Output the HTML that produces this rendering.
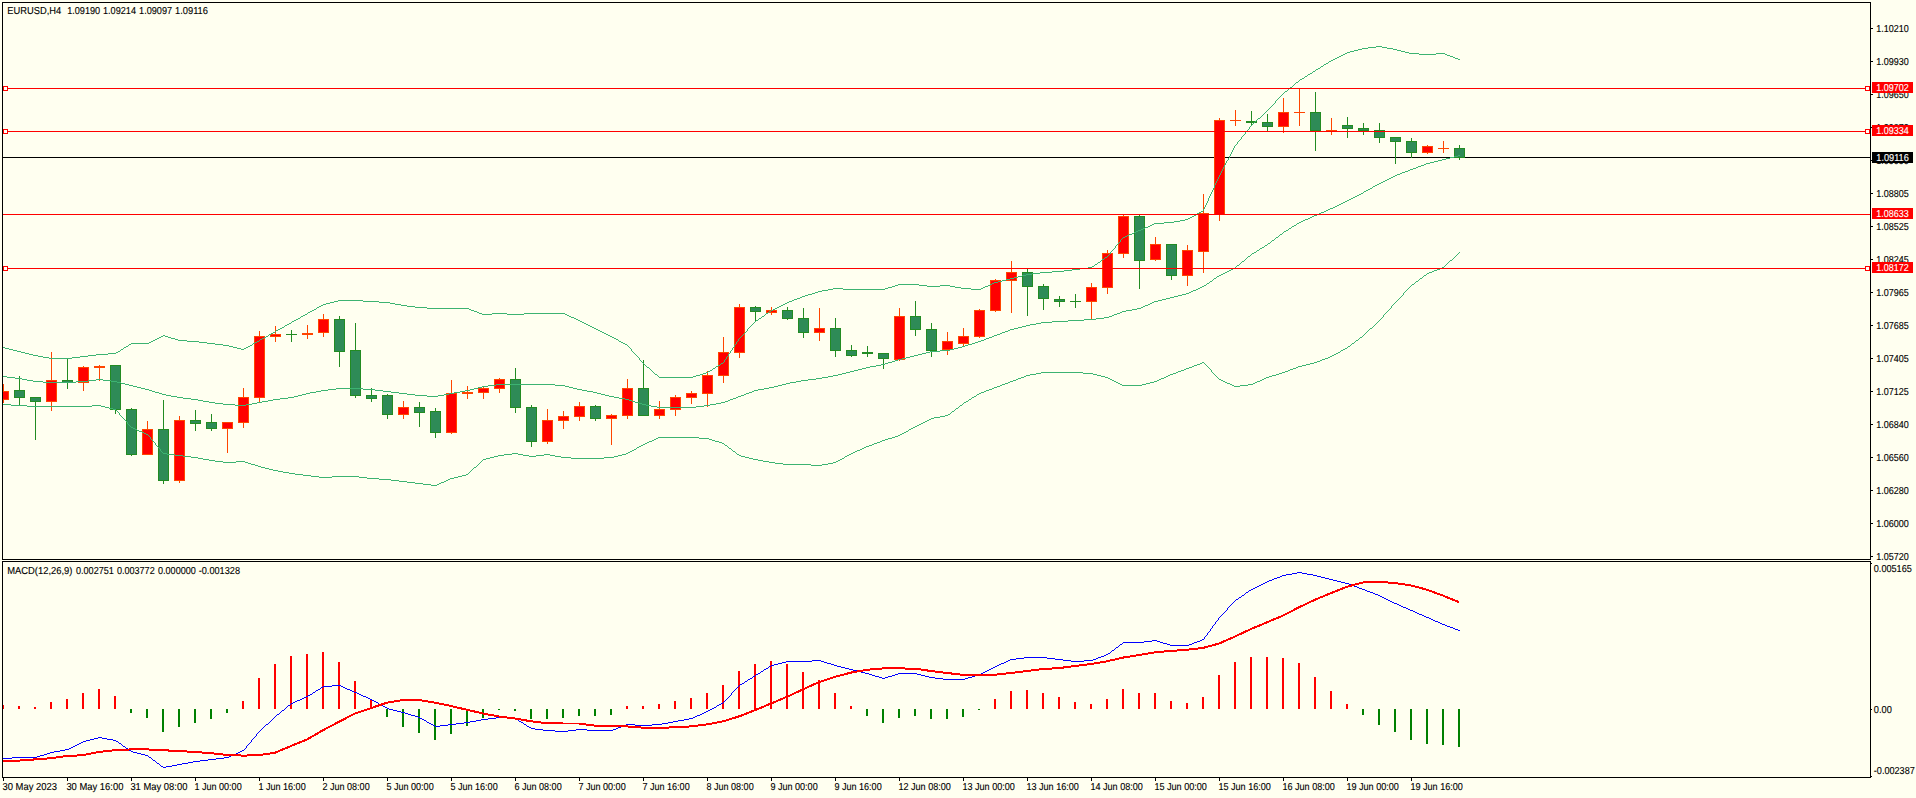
<!DOCTYPE html><html><head><meta charset="utf-8"><title>EURUSD,H4</title>
<style>html,body{margin:0;padding:0;background:#FFFFF0;width:1916px;height:798px;overflow:hidden}svg{display:block;position:absolute;left:0;top:0}text{font-family:"Liberation Sans",sans-serif;text-rendering:geometricPrecision;font-size:10.1px;fill:#000;stroke:#000;stroke-width:0.12px}.w{fill:#fff;stroke:#fff}</style></head><body>
<svg width="1916" height="798" viewBox="0 0 1916 798">
<rect x="0" y="0" width="1916" height="798" fill="#FFFFF0"/>
<g shape-rendering="crispEdges">
<rect x="2" y="2" width="1869" height="1" fill="#000"/>
<rect x="2" y="559" width="1869" height="1" fill="#000"/>
<rect x="2" y="2" width="1" height="558" fill="#000"/>
<rect x="1870" y="2" width="1" height="558" fill="#000"/>
<rect x="2" y="561" width="1869" height="1" fill="#000"/>
<rect x="2" y="777" width="1869" height="1" fill="#000"/>
<rect x="2" y="561" width="1" height="217" fill="#000"/>
<rect x="1870" y="561" width="1" height="217" fill="#000"/>
<rect x="1871" y="28" width="2" height="1" fill="#000"/>
<rect x="1871" y="61" width="2" height="1" fill="#000"/>
<rect x="1871" y="94" width="2" height="1" fill="#000"/>
<rect x="1871" y="127" width="2" height="1" fill="#000"/>
<rect x="1871" y="160" width="2" height="1" fill="#000"/>
<rect x="1871" y="193" width="2" height="1" fill="#000"/>
<rect x="1871" y="226" width="2" height="1" fill="#000"/>
<rect x="1871" y="259" width="2" height="1" fill="#000"/>
<rect x="1871" y="292" width="2" height="1" fill="#000"/>
<rect x="1871" y="325" width="2" height="1" fill="#000"/>
<rect x="1871" y="358" width="2" height="1" fill="#000"/>
<rect x="1871" y="391" width="2" height="1" fill="#000"/>
<rect x="1871" y="424" width="2" height="1" fill="#000"/>
<rect x="1871" y="457" width="2" height="1" fill="#000"/>
<rect x="1871" y="490" width="2" height="1" fill="#000"/>
<rect x="1871" y="523" width="2" height="1" fill="#000"/>
<rect x="1871" y="556" width="2" height="1" fill="#000"/>
<rect x="1871" y="563" width="1" height="1" fill="#000"/>
<rect x="1871" y="709" width="1" height="1" fill="#000"/>
<rect x="1871" y="776" width="1" height="1" fill="#000"/>
<rect x="3" y="778" width="1" height="3" fill="#000"/>
<rect x="67" y="778" width="1" height="3" fill="#000"/>
<rect x="131" y="778" width="1" height="3" fill="#000"/>
<rect x="195" y="778" width="1" height="3" fill="#000"/>
<rect x="259" y="778" width="1" height="3" fill="#000"/>
<rect x="323" y="778" width="1" height="3" fill="#000"/>
<rect x="387" y="778" width="1" height="3" fill="#000"/>
<rect x="451" y="778" width="1" height="3" fill="#000"/>
<rect x="515" y="778" width="1" height="3" fill="#000"/>
<rect x="579" y="778" width="1" height="3" fill="#000"/>
<rect x="643" y="778" width="1" height="3" fill="#000"/>
<rect x="707" y="778" width="1" height="3" fill="#000"/>
<rect x="771" y="778" width="1" height="3" fill="#000"/>
<rect x="835" y="778" width="1" height="3" fill="#000"/>
<rect x="899" y="778" width="1" height="3" fill="#000"/>
<rect x="963" y="778" width="1" height="3" fill="#000"/>
<rect x="1027" y="778" width="1" height="3" fill="#000"/>
<rect x="1091" y="778" width="1" height="3" fill="#000"/>
<rect x="1155" y="778" width="1" height="3" fill="#000"/>
<rect x="1219" y="778" width="1" height="3" fill="#000"/>
<rect x="1283" y="778" width="1" height="3" fill="#000"/>
<rect x="1347" y="778" width="1" height="3" fill="#000"/>
<rect x="1411" y="778" width="1" height="3" fill="#000"/>
</g>
<defs><clipPath id="c1"><rect x="3" y="3" width="1867" height="556"/></clipPath><clipPath id="c2"><rect x="3" y="562" width="1867" height="215"/></clipPath></defs>
<g clip-path="url(#c1)" shape-rendering="crispEdges">
<rect x="3" y="157" width="1867" height="1" fill="#000"/>
<rect x="3" y="384" width="1" height="19" fill="#FF4500"/>
<rect x="-2" y="391" width="11" height="9" fill="#FF4500"/>
<rect x="-1" y="392" width="9" height="7" fill="#FF0000"/>
<rect x="19" y="376" width="1" height="30" fill="#228B22"/>
<rect x="14" y="390" width="11" height="8" fill="#228B22"/>
<rect x="15" y="391" width="9" height="6" fill="#2E8B57"/>
<rect x="35" y="397" width="1" height="43" fill="#228B22"/>
<rect x="30" y="397" width="11" height="5" fill="#228B22"/>
<rect x="31" y="398" width="9" height="3" fill="#2E8B57"/>
<rect x="51" y="352" width="1" height="59" fill="#FF4500"/>
<rect x="46" y="380" width="11" height="22" fill="#FF4500"/>
<rect x="47" y="381" width="9" height="20" fill="#FF0000"/>
<rect x="67" y="358" width="1" height="31" fill="#228B22"/>
<rect x="62" y="380" width="11" height="3" fill="#228B22"/>
<rect x="63" y="381" width="9" height="1" fill="#2E8B57"/>
<rect x="83" y="366" width="1" height="25" fill="#FF4500"/>
<rect x="78" y="367" width="11" height="16" fill="#FF4500"/>
<rect x="79" y="368" width="9" height="14" fill="#FF0000"/>
<rect x="99" y="365" width="1" height="16" fill="#FF4500"/>
<rect x="94" y="366" width="11" height="2" fill="#FF4500"/>
<rect x="115" y="365" width="1" height="49" fill="#228B22"/>
<rect x="110" y="365" width="11" height="45" fill="#228B22"/>
<rect x="111" y="366" width="9" height="43" fill="#2E8B57"/>
<rect x="131" y="408" width="1" height="48" fill="#228B22"/>
<rect x="126" y="409" width="11" height="46" fill="#228B22"/>
<rect x="127" y="410" width="9" height="44" fill="#2E8B57"/>
<rect x="147" y="421" width="1" height="34" fill="#FF4500"/>
<rect x="142" y="429" width="11" height="26" fill="#FF4500"/>
<rect x="143" y="430" width="9" height="24" fill="#FF0000"/>
<rect x="163" y="400" width="1" height="84" fill="#228B22"/>
<rect x="158" y="429" width="11" height="52" fill="#228B22"/>
<rect x="159" y="430" width="9" height="50" fill="#2E8B57"/>
<rect x="179" y="416" width="1" height="67" fill="#FF4500"/>
<rect x="174" y="420" width="11" height="61" fill="#FF4500"/>
<rect x="175" y="421" width="9" height="59" fill="#FF0000"/>
<rect x="195" y="410" width="1" height="21" fill="#228B22"/>
<rect x="190" y="420" width="11" height="4" fill="#228B22"/>
<rect x="191" y="421" width="9" height="2" fill="#2E8B57"/>
<rect x="211" y="414" width="1" height="17" fill="#228B22"/>
<rect x="206" y="422" width="11" height="7" fill="#228B22"/>
<rect x="207" y="423" width="9" height="5" fill="#2E8B57"/>
<rect x="227" y="422" width="1" height="31" fill="#FF4500"/>
<rect x="222" y="422" width="11" height="7" fill="#FF4500"/>
<rect x="223" y="423" width="9" height="5" fill="#FF0000"/>
<rect x="243" y="388" width="1" height="40" fill="#FF4500"/>
<rect x="238" y="397" width="11" height="26" fill="#FF4500"/>
<rect x="239" y="398" width="9" height="24" fill="#FF0000"/>
<rect x="259" y="331" width="1" height="72" fill="#FF4500"/>
<rect x="254" y="336" width="11" height="62" fill="#FF4500"/>
<rect x="255" y="337" width="9" height="60" fill="#FF0000"/>
<rect x="275" y="326" width="1" height="16" fill="#FF4500"/>
<rect x="270" y="334" width="11" height="3" fill="#FF4500"/>
<rect x="271" y="335" width="9" height="1" fill="#FF0000"/>
<rect x="291" y="330" width="1" height="12" fill="#228B22"/>
<rect x="286" y="334" width="11" height="1" fill="#228B22"/>
<rect x="307" y="325" width="1" height="14" fill="#FF4500"/>
<rect x="302" y="333" width="11" height="2" fill="#FF4500"/>
<rect x="323" y="314" width="1" height="23" fill="#FF4500"/>
<rect x="318" y="319" width="11" height="14" fill="#FF4500"/>
<rect x="319" y="320" width="9" height="12" fill="#FF0000"/>
<rect x="339" y="316" width="1" height="51" fill="#228B22"/>
<rect x="334" y="319" width="11" height="33" fill="#228B22"/>
<rect x="335" y="320" width="9" height="31" fill="#2E8B57"/>
<rect x="355" y="323" width="1" height="75" fill="#228B22"/>
<rect x="350" y="350" width="11" height="46" fill="#228B22"/>
<rect x="351" y="351" width="9" height="44" fill="#2E8B57"/>
<rect x="371" y="388" width="1" height="14" fill="#228B22"/>
<rect x="366" y="395" width="11" height="4" fill="#228B22"/>
<rect x="367" y="396" width="9" height="2" fill="#2E8B57"/>
<rect x="387" y="394" width="1" height="25" fill="#228B22"/>
<rect x="382" y="395" width="11" height="20" fill="#228B22"/>
<rect x="383" y="396" width="9" height="18" fill="#2E8B57"/>
<rect x="403" y="401" width="1" height="18" fill="#FF4500"/>
<rect x="398" y="407" width="11" height="8" fill="#FF4500"/>
<rect x="399" y="408" width="9" height="6" fill="#FF0000"/>
<rect x="419" y="402" width="1" height="25" fill="#228B22"/>
<rect x="414" y="407" width="11" height="6" fill="#228B22"/>
<rect x="415" y="408" width="9" height="4" fill="#2E8B57"/>
<rect x="435" y="408" width="1" height="30" fill="#228B22"/>
<rect x="430" y="411" width="11" height="22" fill="#228B22"/>
<rect x="431" y="412" width="9" height="20" fill="#2E8B57"/>
<rect x="451" y="380" width="1" height="54" fill="#FF4500"/>
<rect x="446" y="393" width="11" height="40" fill="#FF4500"/>
<rect x="447" y="394" width="9" height="38" fill="#FF0000"/>
<rect x="467" y="386" width="1" height="13" fill="#FF4500"/>
<rect x="462" y="392" width="11" height="2" fill="#FF4500"/>
<rect x="483" y="386" width="1" height="13" fill="#FF4500"/>
<rect x="478" y="388" width="11" height="5" fill="#FF4500"/>
<rect x="479" y="389" width="9" height="3" fill="#FF0000"/>
<rect x="499" y="378" width="1" height="15" fill="#FF4500"/>
<rect x="494" y="379" width="11" height="10" fill="#FF4500"/>
<rect x="495" y="380" width="9" height="8" fill="#FF0000"/>
<rect x="515" y="368" width="1" height="45" fill="#228B22"/>
<rect x="510" y="379" width="11" height="29" fill="#228B22"/>
<rect x="511" y="380" width="9" height="27" fill="#2E8B57"/>
<rect x="531" y="405" width="1" height="42" fill="#228B22"/>
<rect x="526" y="407" width="11" height="35" fill="#228B22"/>
<rect x="527" y="408" width="9" height="33" fill="#2E8B57"/>
<rect x="547" y="409" width="1" height="35" fill="#FF4500"/>
<rect x="542" y="420" width="11" height="22" fill="#FF4500"/>
<rect x="543" y="421" width="9" height="20" fill="#FF0000"/>
<rect x="563" y="411" width="1" height="18" fill="#FF4500"/>
<rect x="558" y="416" width="11" height="5" fill="#FF4500"/>
<rect x="559" y="417" width="9" height="3" fill="#FF0000"/>
<rect x="579" y="402" width="1" height="19" fill="#FF4500"/>
<rect x="574" y="406" width="11" height="11" fill="#FF4500"/>
<rect x="575" y="407" width="9" height="9" fill="#FF0000"/>
<rect x="595" y="405" width="1" height="16" fill="#228B22"/>
<rect x="590" y="406" width="11" height="13" fill="#228B22"/>
<rect x="591" y="407" width="9" height="11" fill="#2E8B57"/>
<rect x="611" y="414" width="1" height="31" fill="#FF4500"/>
<rect x="606" y="415" width="11" height="4" fill="#FF4500"/>
<rect x="607" y="416" width="9" height="2" fill="#FF0000"/>
<rect x="627" y="379" width="1" height="40" fill="#FF4500"/>
<rect x="622" y="388" width="11" height="28" fill="#FF4500"/>
<rect x="623" y="389" width="9" height="26" fill="#FF0000"/>
<rect x="643" y="360" width="1" height="56" fill="#228B22"/>
<rect x="638" y="388" width="11" height="28" fill="#228B22"/>
<rect x="639" y="389" width="9" height="26" fill="#2E8B57"/>
<rect x="659" y="401" width="1" height="18" fill="#FF4500"/>
<rect x="654" y="409" width="11" height="7" fill="#FF4500"/>
<rect x="655" y="410" width="9" height="5" fill="#FF0000"/>
<rect x="675" y="395" width="1" height="21" fill="#FF4500"/>
<rect x="670" y="397" width="11" height="13" fill="#FF4500"/>
<rect x="671" y="398" width="9" height="11" fill="#FF0000"/>
<rect x="691" y="391" width="1" height="13" fill="#FF4500"/>
<rect x="686" y="393" width="11" height="5" fill="#FF4500"/>
<rect x="687" y="394" width="9" height="3" fill="#FF0000"/>
<rect x="707" y="371" width="1" height="36" fill="#FF4500"/>
<rect x="702" y="375" width="11" height="19" fill="#FF4500"/>
<rect x="703" y="376" width="9" height="17" fill="#FF0000"/>
<rect x="723" y="337" width="1" height="46" fill="#FF4500"/>
<rect x="718" y="352" width="11" height="24" fill="#FF4500"/>
<rect x="719" y="353" width="9" height="22" fill="#FF0000"/>
<rect x="739" y="304" width="1" height="54" fill="#FF4500"/>
<rect x="734" y="307" width="11" height="46" fill="#FF4500"/>
<rect x="735" y="308" width="9" height="44" fill="#FF0000"/>
<rect x="755" y="306" width="1" height="15" fill="#228B22"/>
<rect x="750" y="307" width="11" height="5" fill="#228B22"/>
<rect x="751" y="308" width="9" height="3" fill="#2E8B57"/>
<rect x="771" y="307" width="1" height="8" fill="#FF4500"/>
<rect x="766" y="310" width="11" height="3" fill="#FF4500"/>
<rect x="767" y="311" width="9" height="1" fill="#FF0000"/>
<rect x="787" y="307" width="1" height="13" fill="#228B22"/>
<rect x="782" y="310" width="11" height="9" fill="#228B22"/>
<rect x="783" y="311" width="9" height="7" fill="#2E8B57"/>
<rect x="803" y="308" width="1" height="30" fill="#228B22"/>
<rect x="798" y="318" width="11" height="15" fill="#228B22"/>
<rect x="799" y="319" width="9" height="13" fill="#2E8B57"/>
<rect x="819" y="308" width="1" height="33" fill="#FF4500"/>
<rect x="814" y="328" width="11" height="5" fill="#FF4500"/>
<rect x="815" y="329" width="9" height="3" fill="#FF0000"/>
<rect x="835" y="318" width="1" height="39" fill="#228B22"/>
<rect x="830" y="328" width="11" height="23" fill="#228B22"/>
<rect x="831" y="329" width="9" height="21" fill="#2E8B57"/>
<rect x="851" y="345" width="1" height="12" fill="#228B22"/>
<rect x="846" y="350" width="11" height="6" fill="#228B22"/>
<rect x="847" y="351" width="9" height="4" fill="#2E8B57"/>
<rect x="867" y="346" width="1" height="11" fill="#228B22"/>
<rect x="862" y="352" width="11" height="2" fill="#228B22"/>
<rect x="883" y="353" width="1" height="16" fill="#228B22"/>
<rect x="878" y="353" width="11" height="6" fill="#228B22"/>
<rect x="879" y="354" width="9" height="4" fill="#2E8B57"/>
<rect x="899" y="308" width="1" height="53" fill="#FF4500"/>
<rect x="894" y="316" width="11" height="44" fill="#FF4500"/>
<rect x="895" y="317" width="9" height="42" fill="#FF0000"/>
<rect x="915" y="301" width="1" height="35" fill="#228B22"/>
<rect x="910" y="316" width="11" height="14" fill="#228B22"/>
<rect x="911" y="317" width="9" height="12" fill="#2E8B57"/>
<rect x="931" y="323" width="1" height="34" fill="#228B22"/>
<rect x="926" y="329" width="11" height="22" fill="#228B22"/>
<rect x="927" y="330" width="9" height="20" fill="#2E8B57"/>
<rect x="947" y="332" width="1" height="23" fill="#FF4500"/>
<rect x="942" y="341" width="11" height="9" fill="#FF4500"/>
<rect x="943" y="342" width="9" height="7" fill="#FF0000"/>
<rect x="963" y="328" width="1" height="18" fill="#FF4500"/>
<rect x="958" y="336" width="11" height="8" fill="#FF4500"/>
<rect x="959" y="337" width="9" height="6" fill="#FF0000"/>
<rect x="979" y="309" width="1" height="29" fill="#FF4500"/>
<rect x="974" y="310" width="11" height="27" fill="#FF4500"/>
<rect x="975" y="311" width="9" height="25" fill="#FF0000"/>
<rect x="995" y="279" width="1" height="33" fill="#FF4500"/>
<rect x="990" y="280" width="11" height="31" fill="#FF4500"/>
<rect x="991" y="281" width="9" height="29" fill="#FF0000"/>
<rect x="1011" y="261" width="1" height="52" fill="#FF4500"/>
<rect x="1006" y="272" width="11" height="9" fill="#FF4500"/>
<rect x="1007" y="273" width="9" height="7" fill="#FF0000"/>
<rect x="1027" y="268" width="1" height="48" fill="#228B22"/>
<rect x="1022" y="272" width="11" height="15" fill="#228B22"/>
<rect x="1023" y="273" width="9" height="13" fill="#2E8B57"/>
<rect x="1043" y="284" width="1" height="26" fill="#228B22"/>
<rect x="1038" y="286" width="11" height="13" fill="#228B22"/>
<rect x="1039" y="287" width="9" height="11" fill="#2E8B57"/>
<rect x="1059" y="296" width="1" height="11" fill="#228B22"/>
<rect x="1054" y="299" width="11" height="3" fill="#228B22"/>
<rect x="1055" y="300" width="9" height="1" fill="#2E8B57"/>
<rect x="1075" y="294" width="1" height="14" fill="#228B22"/>
<rect x="1070" y="301" width="11" height="1" fill="#228B22"/>
<rect x="1091" y="283" width="1" height="37" fill="#FF4500"/>
<rect x="1086" y="287" width="11" height="15" fill="#FF4500"/>
<rect x="1087" y="288" width="9" height="13" fill="#FF0000"/>
<rect x="1107" y="250" width="1" height="44" fill="#FF4500"/>
<rect x="1102" y="253" width="11" height="35" fill="#FF4500"/>
<rect x="1103" y="254" width="9" height="33" fill="#FF0000"/>
<rect x="1123" y="215" width="1" height="43" fill="#FF4500"/>
<rect x="1118" y="216" width="11" height="38" fill="#FF4500"/>
<rect x="1119" y="217" width="9" height="36" fill="#FF0000"/>
<rect x="1139" y="215" width="1" height="74" fill="#228B22"/>
<rect x="1134" y="216" width="11" height="45" fill="#228B22"/>
<rect x="1135" y="217" width="9" height="43" fill="#2E8B57"/>
<rect x="1155" y="237" width="1" height="24" fill="#FF4500"/>
<rect x="1150" y="244" width="11" height="16" fill="#FF4500"/>
<rect x="1151" y="245" width="9" height="14" fill="#FF0000"/>
<rect x="1171" y="244" width="1" height="36" fill="#228B22"/>
<rect x="1166" y="244" width="11" height="32" fill="#228B22"/>
<rect x="1167" y="245" width="9" height="30" fill="#2E8B57"/>
<rect x="1187" y="245" width="1" height="41" fill="#FF4500"/>
<rect x="1182" y="250" width="11" height="26" fill="#FF4500"/>
<rect x="1183" y="251" width="9" height="24" fill="#FF0000"/>
<rect x="1203" y="194" width="1" height="79" fill="#FF4500"/>
<rect x="1198" y="213" width="11" height="39" fill="#FF4500"/>
<rect x="1199" y="214" width="9" height="37" fill="#FF0000"/>
<rect x="1219" y="118" width="1" height="103" fill="#FF4500"/>
<rect x="1214" y="120" width="11" height="95" fill="#FF4500"/>
<rect x="1215" y="121" width="9" height="93" fill="#FF0000"/>
<rect x="1235" y="110" width="1" height="16" fill="#FF4500"/>
<rect x="1230" y="120" width="11" height="1" fill="#FF4500"/>
<rect x="1251" y="111" width="1" height="15" fill="#228B22"/>
<rect x="1246" y="121" width="11" height="2" fill="#228B22"/>
<rect x="1267" y="114" width="1" height="18" fill="#228B22"/>
<rect x="1262" y="122" width="11" height="5" fill="#228B22"/>
<rect x="1263" y="123" width="9" height="3" fill="#2E8B57"/>
<rect x="1283" y="98" width="1" height="35" fill="#FF4500"/>
<rect x="1278" y="112" width="11" height="15" fill="#FF4500"/>
<rect x="1279" y="113" width="9" height="13" fill="#FF0000"/>
<rect x="1299" y="89" width="1" height="37" fill="#FF4500"/>
<rect x="1294" y="112" width="11" height="1" fill="#FF4500"/>
<rect x="1315" y="92" width="1" height="59" fill="#228B22"/>
<rect x="1310" y="112" width="11" height="19" fill="#228B22"/>
<rect x="1311" y="113" width="9" height="17" fill="#2E8B57"/>
<rect x="1331" y="118" width="1" height="17" fill="#FF4500"/>
<rect x="1326" y="130" width="11" height="1" fill="#FF4500"/>
<rect x="1347" y="117" width="1" height="21" fill="#228B22"/>
<rect x="1342" y="125" width="11" height="4" fill="#228B22"/>
<rect x="1343" y="126" width="9" height="2" fill="#2E8B57"/>
<rect x="1363" y="123" width="1" height="12" fill="#228B22"/>
<rect x="1358" y="128" width="11" height="3" fill="#228B22"/>
<rect x="1359" y="129" width="9" height="1" fill="#2E8B57"/>
<rect x="1379" y="123" width="1" height="20" fill="#228B22"/>
<rect x="1374" y="130" width="11" height="8" fill="#228B22"/>
<rect x="1375" y="131" width="9" height="6" fill="#2E8B57"/>
<rect x="1395" y="137" width="1" height="27" fill="#228B22"/>
<rect x="1390" y="137" width="11" height="5" fill="#228B22"/>
<rect x="1391" y="138" width="9" height="3" fill="#2E8B57"/>
<rect x="1411" y="138" width="1" height="20" fill="#228B22"/>
<rect x="1406" y="141" width="11" height="12" fill="#228B22"/>
<rect x="1407" y="142" width="9" height="10" fill="#2E8B57"/>
<rect x="1427" y="145" width="1" height="9" fill="#FF4500"/>
<rect x="1422" y="146" width="11" height="7" fill="#FF4500"/>
<rect x="1423" y="147" width="9" height="5" fill="#FF0000"/>
<rect x="1443" y="141" width="1" height="12" fill="#FF4500"/>
<rect x="1438" y="148" width="11" height="1" fill="#FF4500"/>
<rect x="1459" y="145" width="1" height="15" fill="#228B22"/>
<rect x="1454" y="148" width="11" height="10" fill="#228B22"/>
<rect x="1455" y="149" width="9" height="8" fill="#2E8B57"/>
<path d="M3 347.5h2M5 348.5h4M9 349.5h4M13 350.5h4M17 351.5h4M21 352.5h4M25 353.5h4M29 354.5h4M33 355.5h5M38 356.5h5M43 357.5h6M49 358.5h23M72 357.5h8M80 356.5h8M88 355.5h8M96 354.5h12M108 353.5h8M116 352.5h2M118 351.5h2M121 349.5h2M124 347.5h2M126 346.5h2M129 344.5h2M131 343.5h18M149 342.5h2M151 341.5h2M153 340.5h2M155 339.5h2M157 338.5h2M159 337.5h2M161 336.5h2M163 335.5h2M165 336.5h3M168 337.5h3M171 338.5h4M175 339.5h3M178 340.5h9M187 341.5h12M199 342.5h8M207 343.5h8M215 344.5h8M223 345.5h6M229 346.5h4M233 347.5h4M237 348.5h4M241 349.5h3M244 348.5h2M246 347.5h2M248 346.5h2M250 345.5h2M253 343.5h2M255 342.5h2M257 341.5h2M260 339.5h2M262 338.5h2M264 337.5h2M266 336.5h2M269 334.5h2M271 333.5h2M273 332.5h2M276 330.5h2M278 329.5h2M280 328.5h2M282 327.5h2M285 325.5h2M287 324.5h2M289 323.5h2M292 321.5h2M294 320.5h2M296 319.5h2M298 318.5h2M301 316.5h2M303 315.5h2M305 314.5h2M308 312.5h2M310 311.5h2M312 310.5h2M314 309.5h2M317 307.5h2M319 306.5h2M321 305.5h2M323 304.5h3M326 303.5h4M330 302.5h4M334 301.5h4M338 300.5h25M363 301.5h16M379 302.5h11M390 303.5h5M395 304.5h6M401 305.5h6M407 306.5h8M415 307.5h12M427 308.5h42M469 309.5h2M471 310.5h3M474 311.5h3M477 312.5h2M479 313.5h3M482 314.5h10M492 313.5h15M507 314.5h17M524 313.5h41M565 314.5h2M567 315.5h2M569 316.5h2M571 317.5h3M574 318.5h2M576 319.5h2M578 320.5h2M580 321.5h2M582 322.5h2M584 323.5h2M586 324.5h2M588 325.5h2M590 326.5h2M592 327.5h2M594 328.5h2M596 329.5h2M598 330.5h2M600 331.5h2M602 332.5h2M604 333.5h2M606 334.5h2M608 335.5h2M610 336.5h2M612 337.5h2M614 338.5h2M616 339.5h2M619 341.5h2M621 342.5h2M623 343.5h2M625 344.5h2M647 367.5h2M655 374.5h2M659 377.5h34M693 376.5h3M696 375.5h4M700 374.5h3M703 373.5h3M706 372.5h2M708 371.5h2M710 370.5h2M713 368.5h2M716 366.5h2M718 365.5h2M721 363.5h2M756 320.5h2M759 318.5h2M762 316.5h2M766 313.5h2M769 311.5h2M771 310.5h2M773 309.5h2M775 308.5h2M777 307.5h2M779 306.5h2M781 305.5h2M783 304.5h2M785 303.5h2M787 302.5h2M789 301.5h3M792 300.5h2M794 299.5h3M797 298.5h3M800 297.5h2M802 296.5h3M805 295.5h3M808 294.5h4M812 293.5h3M815 292.5h3M818 291.5h4M822 290.5h6M828 289.5h5M833 288.5h10M843 289.5h42M885 288.5h3M888 287.5h4M892 286.5h3M895 285.5h3M898 284.5h21M919 285.5h8M927 286.5h13M940 285.5h10M950 286.5h5M955 287.5h6M961 288.5h10M971 289.5h10M981 288.5h2M983 287.5h2M985 286.5h3M988 285.5h2M990 284.5h2M992 283.5h2M994 282.5h4M998 281.5h4M1002 280.5h4M1006 279.5h4M1010 278.5h4M1014 277.5h4M1018 276.5h4M1022 275.5h4M1026 274.5h6M1032 273.5h8M1040 272.5h12M1052 271.5h12M1064 270.5h8M1072 269.5h8M1080 268.5h8M1088 267.5h4M1092 266.5h2M1095 264.5h2M1098 262.5h2M1102 259.5h2M1105 257.5h2M1123 237.5h2M1125 236.5h2M1127 235.5h2M1129 234.5h3M1132 233.5h2M1134 232.5h2M1136 231.5h2M1138 230.5h3M1141 229.5h2M1143 228.5h2M1145 227.5h3M1148 226.5h2M1150 225.5h2M1152 224.5h2M1154 223.5h10M1164 222.5h10M1174 221.5h6M1180 220.5h5M1185 219.5h3M1188 218.5h2M1190 217.5h2M1192 216.5h2M1194 215.5h2M1197 213.5h2M1199 212.5h2M1201 211.5h2M1258 118.5h2M1285 91.5h2M1290 87.5h2M1296 82.5h2M1300 79.5h2M1302 78.5h2M1305 76.5h2M1308 74.5h2M1310 73.5h2M1313 71.5h2M1316 69.5h2M1318 68.5h2M1321 66.5h2M1324 64.5h2M1326 63.5h2M1329 61.5h2M1331 60.5h2M1333 59.5h2M1335 58.5h2M1337 57.5h2M1339 56.5h2M1341 55.5h2M1343 54.5h2M1345 53.5h2M1347 52.5h3M1350 51.5h4M1354 50.5h4M1358 49.5h4M1362 48.5h6M1368 47.5h8M1376 46.5h6M1382 47.5h5M1387 48.5h6M1393 49.5h4M1397 50.5h4M1401 51.5h4M1405 52.5h4M1409 53.5h10M1419 54.5h17M1436 53.5h9M1445 54.5h2M1447 55.5h3M1450 56.5h3M1453 57.5h2M1455 58.5h3M1458 59.5h2M120.5 350v1M123.5 348v1M128.5 345v1M252.5 344v1M259.5 340v1M268.5 335v1M275.5 331v1M284.5 326v1M291.5 322v1M300.5 317v1M307.5 313v1M316.5 308v1M618.5 340v1M627.5 345v1M628.5 346v1M629.5 347v1M630.5 348v1M631.5 349v2M632.5 351v1M633.5 352v1M634.5 353v1M635.5 354v1M636.5 355v1M637.5 356v1M638.5 357v1M639.5 358v2M640.5 360v1M641.5 361v1M642.5 362v1M643.5 363v1M644.5 364v1M645.5 365v1M646.5 366v1M649.5 368v1M650.5 369v1M651.5 370v1M652.5 371v1M653.5 372v1M654.5 373v1M657.5 375v1M658.5 376v1M712.5 369v1M715.5 367v1M720.5 364v1M723.5 362v1M724.5 360v2M725.5 359v1M726.5 357v2M727.5 356v1M728.5 354v2M729.5 353v1M730.5 351v2M731.5 350v1M732.5 348v2M733.5 347v1M734.5 345v2M735.5 344v1M736.5 342v2M737.5 341v1M738.5 339v2M739.5 338v1M740.5 337v1M741.5 336v1M742.5 335v1M743.5 334v1M744.5 333v1M745.5 332v1M746.5 331v1M747.5 329v2M748.5 328v1M749.5 327v1M750.5 326v1M751.5 325v1M752.5 324v1M753.5 323v1M754.5 322v1M755.5 321v1M758.5 319v1M761.5 317v1M764.5 315v1M765.5 314v1M768.5 312v1M1094.5 265v1M1097.5 263v1M1100.5 261v1M1101.5 260v1M1104.5 258v1M1107.5 256v1M1108.5 255v1M1109.5 254v1M1110.5 252v2M1111.5 251v1M1112.5 250v1M1113.5 249v1M1114.5 248v1M1115.5 246v2M1116.5 245v1M1117.5 244v1M1118.5 243v1M1119.5 242v1M1120.5 240v2M1121.5 239v1M1122.5 238v1M1196.5 214v1M1203.5 209v2M1204.5 207v2M1205.5 205v2M1206.5 203v2M1207.5 201v2M1208.5 198v3M1209.5 196v2M1210.5 194v2M1211.5 192v2M1212.5 190v2M1213.5 188v2M1214.5 185v3M1215.5 183v2M1216.5 181v2M1217.5 179v2M1218.5 177v2M1219.5 175v2M1220.5 173v2M1221.5 171v2M1222.5 169v2M1223.5 167v2M1224.5 165v2M1225.5 163v2M1226.5 161v2M1227.5 160v1M1228.5 158v2M1229.5 156v2M1230.5 154v2M1231.5 152v2M1232.5 150v2M1233.5 148v2M1234.5 146v2M1235.5 145v1M1236.5 144v1M1237.5 142v2M1238.5 141v1M1239.5 140v1M1240.5 139v1M1241.5 137v2M1242.5 136v1M1243.5 135v1M1244.5 134v1M1245.5 132v2M1246.5 131v1M1247.5 130v1M1248.5 129v1M1249.5 127v2M1250.5 126v1M1251.5 125v1M1252.5 124v1M1253.5 123v1M1254.5 122v1M1255.5 121v1M1256.5 120v1M1257.5 119v1M1260.5 117v1M1261.5 116v1M1262.5 115v1M1263.5 114v1M1264.5 113v1M1265.5 112v1M1266.5 111v1M1267.5 110v1M1268.5 109v1M1269.5 108v1M1270.5 107v1M1271.5 106v1M1272.5 105v1M1273.5 104v1M1274.5 103v1M1275.5 101v2M1276.5 100v1M1277.5 99v1M1278.5 98v1M1279.5 97v1M1280.5 96v1M1281.5 95v1M1282.5 94v1M1283.5 93v1M1284.5 92v1M1287.5 90v1M1288.5 89v1M1289.5 88v1M1292.5 86v1M1293.5 85v1M1294.5 84v1M1295.5 83v1M1298.5 81v1M1299.5 80v1M1304.5 77v1M1307.5 75v1M1312.5 72v1M1315.5 70v1M1320.5 67v1M1323.5 65v1M1328.5 62v1" fill="none" stroke="#3CB371" stroke-width="1"/>
<path d="M3 376.5h4M7 377.5h8M15 378.5h7M22 379.5h5M27 380.5h6M33 381.5h10M43 382.5h33M76 381.5h12M88 380.5h8M96 379.5h7M103 380.5h8M111 381.5h6M117 382.5h4M121 383.5h4M125 384.5h4M129 385.5h4M133 386.5h4M137 387.5h4M141 388.5h4M145 389.5h4M149 390.5h3M152 391.5h3M155 392.5h4M159 393.5h3M162 394.5h4M166 395.5h5M171 396.5h6M177 397.5h6M183 398.5h8M191 399.5h7M198 400.5h5M203 401.5h6M209 402.5h6M215 403.5h8M223 404.5h12M235 405.5h11M246 404.5h6M252 403.5h5M257 402.5h5M262 401.5h6M268 400.5h5M273 399.5h7M280 398.5h8M288 397.5h6M294 396.5h4M298 395.5h4M302 394.5h4M306 393.5h4M310 392.5h6M316 391.5h5M321 390.5h7M328 389.5h8M336 388.5h27M363 389.5h12M375 390.5h8M383 391.5h8M391 392.5h8M399 393.5h8M407 394.5h8M415 395.5h12M427 396.5h11M438 395.5h6M444 394.5h5M449 393.5h5M454 392.5h6M460 391.5h5M465 390.5h5M470 389.5h4M474 388.5h4M478 387.5h4M482 386.5h6M488 385.5h8M496 384.5h59M555 385.5h10M565 386.5h4M569 387.5h4M573 388.5h4M577 389.5h5M582 390.5h5M587 391.5h6M593 392.5h4M597 393.5h4M601 394.5h4M605 395.5h4M609 396.5h5M614 397.5h5M619 398.5h6M625 399.5h4M629 400.5h3M632 401.5h3M635 402.5h4M639 403.5h3M642 404.5h4M646 405.5h5M651 406.5h6M657 407.5h39M696 406.5h8M704 405.5h6M710 404.5h6M716 403.5h5M721 402.5h4M725 401.5h3M728 400.5h2M730 399.5h3M733 398.5h3M736 397.5h2M738 396.5h3M741 395.5h3M744 394.5h2M746 393.5h3M749 392.5h3M752 391.5h2M754 390.5h4M758 389.5h6M764 388.5h5M769 387.5h5M774 386.5h4M778 385.5h4M782 384.5h4M786 383.5h4M790 382.5h6M796 381.5h5M801 380.5h7M808 379.5h8M816 378.5h6M822 377.5h6M828 376.5h5M833 375.5h5M838 374.5h4M842 373.5h4M846 372.5h4M850 371.5h4M854 370.5h4M858 369.5h4M862 368.5h4M866 367.5h4M870 366.5h6M876 365.5h5M881 364.5h4M885 363.5h3M888 362.5h4M892 361.5h3M895 360.5h3M898 359.5h4M902 358.5h4M906 357.5h4M910 356.5h4M914 355.5h4M918 354.5h4M922 353.5h4M926 352.5h4M930 351.5h10M940 350.5h10M950 349.5h4M954 348.5h4M958 347.5h4M962 346.5h3M965 345.5h3M968 344.5h4M972 343.5h3M975 342.5h3M978 341.5h3M981 340.5h3M984 339.5h2M986 338.5h3M989 337.5h3M992 336.5h2M994 335.5h3M997 334.5h3M1000 333.5h2M1002 332.5h3M1005 331.5h3M1008 330.5h2M1010 329.5h4M1014 328.5h4M1018 327.5h4M1022 326.5h4M1026 325.5h4M1030 324.5h6M1036 323.5h5M1041 322.5h11M1052 321.5h16M1068 320.5h16M1084 319.5h12M1096 318.5h8M1104 317.5h5M1109 316.5h3M1112 315.5h2M1114 314.5h3M1117 313.5h3M1120 312.5h2M1122 311.5h4M1126 310.5h6M1132 309.5h5M1137 308.5h4M1141 307.5h2M1143 306.5h2M1145 305.5h3M1148 304.5h2M1150 303.5h2M1152 302.5h2M1154 301.5h4M1158 300.5h4M1162 299.5h4M1166 298.5h4M1170 297.5h4M1174 296.5h4M1178 295.5h4M1182 294.5h4M1186 293.5h3M1189 292.5h2M1191 291.5h2M1193 290.5h3M1196 289.5h2M1198 288.5h2M1200 287.5h2M1202 286.5h2M1204 285.5h2M1207 283.5h2M1210 281.5h2M1214 278.5h2M1217 276.5h2M1219 275.5h2M1221 274.5h2M1223 273.5h2M1225 272.5h2M1227 271.5h2M1229 270.5h2M1231 269.5h2M1233 268.5h2M1237 265.5h2M1242 261.5h2M1248 256.5h2M1252 253.5h2M1254 252.5h2M1257 250.5h2M1260 248.5h2M1262 247.5h2M1265 245.5h2M1268 243.5h2M1272 240.5h2M1276 237.5h2M1280 234.5h2M1284 231.5h2M1286 230.5h2M1289 228.5h2M1292 226.5h2M1294 225.5h2M1297 223.5h2M1299 222.5h2M1301 221.5h2M1303 220.5h2M1305 219.5h3M1308 218.5h2M1310 217.5h2M1312 216.5h2M1314 215.5h3M1317 214.5h2M1319 213.5h2M1321 212.5h3M1324 211.5h2M1326 210.5h2M1328 209.5h2M1330 208.5h3M1333 207.5h2M1335 206.5h2M1337 205.5h2M1339 204.5h2M1341 203.5h2M1343 202.5h2M1345 201.5h2M1347 200.5h2M1349 199.5h2M1351 198.5h2M1353 197.5h2M1355 196.5h2M1357 195.5h2M1359 194.5h2M1361 193.5h2M1364 191.5h2M1366 190.5h2M1368 189.5h2M1370 188.5h2M1373 186.5h2M1375 185.5h2M1377 184.5h2M1379 183.5h2M1381 182.5h2M1383 181.5h2M1385 180.5h2M1387 179.5h2M1389 178.5h2M1391 177.5h2M1393 176.5h2M1395 175.5h2M1397 174.5h3M1400 173.5h2M1402 172.5h3M1405 171.5h3M1408 170.5h2M1410 169.5h3M1413 168.5h3M1416 167.5h2M1418 166.5h3M1421 165.5h3M1424 164.5h2M1426 163.5h4M1430 162.5h4M1434 161.5h4M1438 160.5h4M1442 159.5h4M1446 158.5h4M1450 157.5h4M1454 156.5h4M1458 155.5h2M1206.5 284v1M1209.5 282v1M1212.5 280v1M1213.5 279v1M1216.5 277v1M1235.5 267v1M1236.5 266v1M1239.5 264v1M1240.5 263v1M1241.5 262v1M1244.5 260v1M1245.5 259v1M1246.5 258v1M1247.5 257v1M1250.5 255v1M1251.5 254v1M1256.5 251v1M1259.5 249v1M1264.5 246v1M1267.5 244v1M1270.5 242v1M1271.5 241v1M1274.5 239v1M1275.5 238v1M1278.5 236v1M1279.5 235v1M1282.5 233v1M1283.5 232v1M1288.5 229v1M1291.5 227v1M1296.5 224v1M1363.5 192v1M1372.5 187v1" fill="none" stroke="#3CB371" stroke-width="1"/>
<path d="M3 404.5h8M11 405.5h16M27 406.5h65M92 405.5h9M101 406.5h4M105 407.5h4M109 408.5h4M113 409.5h3M131 427.5h2M133 428.5h2M135 429.5h2M137 430.5h2M139 431.5h3M142 432.5h2M144 433.5h2M146 434.5h2M163 453.5h4M167 454.5h8M175 455.5h8M183 456.5h8M191 457.5h7M198 458.5h5M203 459.5h6M209 460.5h6M215 461.5h8M223 462.5h13M236 461.5h9M245 462.5h3M248 463.5h3M251 464.5h4M255 465.5h3M258 466.5h3M261 467.5h4M265 468.5h4M269 469.5h4M273 470.5h5M278 471.5h5M283 472.5h6M289 473.5h6M295 474.5h8M303 475.5h8M311 476.5h8M319 477.5h13M332 476.5h27M359 477.5h8M367 478.5h12M379 479.5h12M391 480.5h8M399 481.5h8M407 482.5h8M415 483.5h8M423 484.5h8M431 485.5h6M437 484.5h2M439 483.5h2M441 482.5h3M444 481.5h2M446 480.5h2M448 479.5h2M450 478.5h4M454 477.5h4M458 476.5h4M462 475.5h4M466 474.5h2M474 467.5h2M483 459.5h3M486 458.5h4M490 457.5h4M494 456.5h4M498 455.5h6M504 454.5h8M512 453.5h6M518 454.5h5M523 455.5h6M529 456.5h7M536 455.5h8M544 454.5h6M550 455.5h5M555 456.5h6M561 457.5h10M571 458.5h33M604 457.5h10M614 456.5h4M618 455.5h4M622 454.5h4M626 453.5h2M628 452.5h2M630 451.5h2M632 450.5h2M634 449.5h2M637 447.5h2M639 446.5h2M641 445.5h2M643 444.5h2M645 443.5h2M647 442.5h2M649 441.5h3M652 440.5h2M654 439.5h2M656 438.5h2M658 437.5h41M699 438.5h10M709 439.5h3M712 440.5h3M715 441.5h4M719 442.5h3M722 443.5h2M725 445.5h2M729 448.5h2M733 451.5h2M737 454.5h2M739 455.5h2M741 456.5h4M745 457.5h4M749 458.5h4M753 459.5h5M758 460.5h5M763 461.5h6M769 462.5h6M775 463.5h8M783 464.5h28M811 465.5h11M822 464.5h6M828 463.5h5M833 462.5h3M836 461.5h2M838 460.5h2M840 459.5h2M842 458.5h2M845 456.5h2M847 455.5h2M849 454.5h2M851 453.5h2M853 452.5h2M855 451.5h2M857 450.5h3M860 449.5h2M862 448.5h2M864 447.5h2M866 446.5h3M869 445.5h3M872 444.5h2M874 443.5h3M877 442.5h3M880 441.5h2M882 440.5h3M885 439.5h3M888 438.5h4M892 437.5h3M895 436.5h3M898 435.5h2M900 434.5h2M902 433.5h2M904 432.5h2M906 431.5h2M909 429.5h2M911 428.5h2M913 427.5h2M915 426.5h2M917 425.5h2M919 424.5h2M921 423.5h2M923 422.5h2M925 421.5h2M927 420.5h2M929 419.5h2M931 418.5h3M934 417.5h6M940 416.5h5M945 415.5h3M948 414.5h2M952 411.5h2M956 408.5h2M960 405.5h2M964 402.5h2M966 401.5h2M969 399.5h2M972 397.5h2M974 396.5h2M977 394.5h2M979 393.5h2M981 392.5h3M984 391.5h2M986 390.5h3M989 389.5h3M992 388.5h2M994 387.5h3M997 386.5h3M1000 385.5h2M1002 384.5h3M1005 383.5h3M1008 382.5h2M1010 381.5h3M1013 380.5h3M1016 379.5h2M1018 378.5h3M1021 377.5h3M1024 376.5h2M1026 375.5h4M1030 374.5h6M1036 373.5h5M1041 372.5h42M1083 373.5h10M1093 374.5h4M1097 375.5h4M1101 376.5h4M1105 377.5h3M1108 378.5h2M1110 379.5h2M1112 380.5h2M1114 381.5h2M1116 382.5h2M1118 383.5h2M1120 384.5h2M1122 385.5h20M1142 384.5h4M1146 383.5h4M1150 382.5h4M1154 381.5h3M1157 380.5h2M1159 379.5h2M1161 378.5h3M1164 377.5h2M1166 376.5h2M1168 375.5h2M1170 374.5h3M1173 373.5h3M1176 372.5h2M1178 371.5h3M1181 370.5h3M1184 369.5h2M1186 368.5h3M1189 367.5h3M1192 366.5h2M1194 365.5h3M1197 364.5h3M1200 363.5h2M1202 362.5h2M1219 379.5h2M1221 380.5h2M1223 381.5h2M1225 382.5h2M1227 383.5h3M1230 384.5h2M1232 385.5h2M1234 386.5h6M1240 385.5h8M1248 384.5h5M1253 383.5h2M1255 382.5h2M1257 381.5h3M1260 380.5h2M1262 379.5h2M1264 378.5h2M1266 377.5h3M1269 376.5h3M1272 375.5h4M1276 374.5h3M1279 373.5h3M1282 372.5h3M1285 371.5h3M1288 370.5h2M1290 369.5h3M1293 368.5h3M1296 367.5h2M1298 366.5h4M1302 365.5h4M1306 364.5h4M1310 363.5h4M1314 362.5h3M1317 361.5h3M1320 360.5h2M1322 359.5h3M1325 358.5h3M1328 357.5h2M1330 356.5h2M1332 355.5h2M1334 354.5h2M1336 353.5h2M1338 352.5h2M1341 350.5h2M1343 349.5h2M1345 348.5h2M1348 346.5h2M1352 343.5h2M1356 340.5h2M1360 337.5h2M1370 328.5h2M1412 284.5h2M1416 281.5h2M1420 278.5h2M1424 275.5h2M1427 273.5h2M1429 272.5h3M1432 271.5h2M1434 270.5h3M1437 269.5h3M1440 268.5h2M1442 267.5h2M1450 260.5h2M116.5 410v1M117.5 411v1M118.5 412v1M119.5 413v2M120.5 415v1M121.5 416v1M122.5 417v1M123.5 418v1M124.5 419v1M125.5 420v1M126.5 421v1M127.5 422v2M128.5 424v1M129.5 425v1M130.5 426v1M148.5 435v1M149.5 436v1M150.5 437v2M151.5 439v1M152.5 440v1M153.5 441v1M154.5 442v1M155.5 443v2M156.5 445v1M157.5 446v1M158.5 447v1M159.5 448v1M160.5 449v2M161.5 451v1M162.5 452v1M468.5 473v1M469.5 472v1M470.5 471v1M471.5 470v1M472.5 469v1M473.5 468v1M476.5 466v1M477.5 465v1M478.5 464v1M479.5 463v1M480.5 462v1M481.5 461v1M482.5 460v1M636.5 448v1M724.5 444v1M727.5 446v1M728.5 447v1M731.5 449v1M732.5 450v1M735.5 452v1M736.5 453v1M844.5 457v1M908.5 430v1M950.5 413v1M951.5 412v1M954.5 410v1M955.5 409v1M958.5 407v1M959.5 406v1M962.5 404v1M963.5 403v1M968.5 400v1M971.5 398v1M976.5 395v1M1204.5 363v1M1205.5 364v1M1206.5 365v1M1207.5 366v1M1208.5 367v1M1209.5 368v1M1210.5 369v1M1211.5 370v2M1212.5 372v1M1213.5 373v1M1214.5 374v1M1215.5 375v1M1216.5 376v1M1217.5 377v1M1218.5 378v1M1340.5 351v1M1347.5 347v1M1350.5 345v1M1351.5 344v1M1354.5 342v1M1355.5 341v1M1358.5 339v1M1359.5 338v1M1362.5 336v1M1363.5 335v1M1364.5 334v1M1365.5 333v1M1366.5 332v1M1367.5 331v1M1368.5 330v1M1369.5 329v1M1372.5 327v1M1373.5 326v1M1374.5 325v1M1375.5 324v1M1376.5 323v1M1377.5 322v1M1378.5 321v1M1379.5 320v1M1380.5 319v1M1381.5 318v1M1382.5 317v1M1383.5 315v2M1384.5 314v1M1385.5 313v1M1386.5 312v1M1387.5 311v1M1388.5 310v1M1389.5 309v1M1390.5 308v1M1391.5 306v2M1392.5 305v1M1393.5 304v1M1394.5 303v1M1395.5 302v1M1396.5 301v1M1397.5 300v1M1398.5 299v1M1399.5 298v1M1400.5 297v1M1401.5 296v1M1402.5 295v1M1403.5 293v2M1404.5 292v1M1405.5 291v1M1406.5 290v1M1407.5 289v1M1408.5 288v1M1409.5 287v1M1410.5 286v1M1411.5 285v1M1414.5 283v1M1415.5 282v1M1418.5 280v1M1419.5 279v1M1422.5 277v1M1423.5 276v1M1426.5 274v1M1444.5 266v1M1445.5 265v1M1446.5 264v1M1447.5 263v1M1448.5 262v1M1449.5 261v1M1452.5 259v1M1453.5 258v1M1454.5 257v1M1455.5 256v1M1456.5 255v1M1457.5 254v1M1458.5 253v1M1459.5 252v1" fill="none" stroke="#3CB371" stroke-width="1"/>
<rect x="3" y="88" width="1867" height="1" fill="#FF0000"/>
<rect x="3" y="131" width="1867" height="1" fill="#FF0000"/>
<rect x="3" y="214" width="1867" height="1" fill="#FF0000"/>
<rect x="3" y="268" width="1867" height="1" fill="#FF0000"/>
</g>
<g shape-rendering="crispEdges">
<rect x="3" y="86" width="5" height="5" fill="#FF0000"/>
<rect x="4" y="87" width="3" height="3" fill="#FFFFF8"/>
<rect x="1865" y="86" width="5" height="5" fill="#FF0000"/>
<rect x="1866" y="87" width="3" height="3" fill="#FFFFF8"/>
<rect x="3" y="129" width="5" height="5" fill="#FF0000"/>
<rect x="4" y="130" width="3" height="3" fill="#FFFFF8"/>
<rect x="1865" y="129" width="5" height="5" fill="#FF0000"/>
<rect x="1866" y="130" width="3" height="3" fill="#FFFFF8"/>
<rect x="3" y="266" width="5" height="5" fill="#FF0000"/>
<rect x="4" y="267" width="3" height="3" fill="#FFFFF8"/>
<rect x="1865" y="266" width="5" height="5" fill="#FF0000"/>
<rect x="1866" y="267" width="3" height="3" fill="#FFFFF8"/>
</g>
<g clip-path="url(#c2)" shape-rendering="crispEdges">
<rect x="2" y="705" width="2" height="4" fill="#FF0000"/>
<rect x="18" y="706" width="2" height="3" fill="#FF0000"/>
<rect x="34" y="707" width="2" height="2" fill="#FF0000"/>
<rect x="50" y="702" width="2" height="7" fill="#FF0000"/>
<rect x="66" y="699" width="2" height="10" fill="#FF0000"/>
<rect x="82" y="693" width="2" height="16" fill="#FF0000"/>
<rect x="98" y="689" width="2" height="20" fill="#FF0000"/>
<rect x="114" y="696" width="2" height="13" fill="#FF0000"/>
<rect x="130" y="709" width="2" height="4" fill="#008000"/>
<rect x="146" y="709" width="2" height="9" fill="#008000"/>
<rect x="162" y="709" width="2" height="23" fill="#008000"/>
<rect x="178" y="709" width="2" height="18" fill="#008000"/>
<rect x="194" y="709" width="2" height="14" fill="#008000"/>
<rect x="210" y="709" width="2" height="10" fill="#008000"/>
<rect x="226" y="709" width="2" height="4" fill="#008000"/>
<rect x="242" y="701" width="2" height="8" fill="#FF0000"/>
<rect x="258" y="678" width="2" height="31" fill="#FF0000"/>
<rect x="274" y="664" width="2" height="45" fill="#FF0000"/>
<rect x="290" y="656" width="2" height="53" fill="#FF0000"/>
<rect x="306" y="654" width="2" height="55" fill="#FF0000"/>
<rect x="322" y="652" width="2" height="57" fill="#FF0000"/>
<rect x="338" y="662" width="2" height="47" fill="#FF0000"/>
<rect x="354" y="681" width="2" height="28" fill="#FF0000"/>
<rect x="370" y="699" width="2" height="10" fill="#FF0000"/>
<rect x="386" y="709" width="2" height="8" fill="#008000"/>
<rect x="402" y="709" width="2" height="18" fill="#008000"/>
<rect x="418" y="709" width="2" height="24" fill="#008000"/>
<rect x="434" y="709" width="2" height="31" fill="#008000"/>
<rect x="450" y="709" width="2" height="25" fill="#008000"/>
<rect x="466" y="709" width="2" height="17" fill="#008000"/>
<rect x="482" y="709" width="2" height="9" fill="#008000"/>
<rect x="498" y="709" width="2" height="1" fill="#008000"/>
<rect x="514" y="709" width="2" height="2" fill="#008000"/>
<rect x="530" y="709" width="2" height="10" fill="#008000"/>
<rect x="546" y="709" width="2" height="10" fill="#008000"/>
<rect x="562" y="709" width="2" height="9" fill="#008000"/>
<rect x="578" y="709" width="2" height="7" fill="#008000"/>
<rect x="594" y="709" width="2" height="7" fill="#008000"/>
<rect x="610" y="709" width="2" height="6" fill="#008000"/>
<rect x="626" y="706" width="2" height="3" fill="#FF0000"/>
<rect x="642" y="706" width="2" height="3" fill="#FF0000"/>
<rect x="658" y="704" width="2" height="5" fill="#FF0000"/>
<rect x="674" y="701" width="2" height="8" fill="#FF0000"/>
<rect x="690" y="698" width="2" height="11" fill="#FF0000"/>
<rect x="706" y="693" width="2" height="16" fill="#FF0000"/>
<rect x="722" y="685" width="2" height="24" fill="#FF0000"/>
<rect x="738" y="671" width="2" height="38" fill="#FF0000"/>
<rect x="754" y="664" width="2" height="45" fill="#FF0000"/>
<rect x="770" y="661" width="2" height="48" fill="#FF0000"/>
<rect x="786" y="664" width="2" height="45" fill="#FF0000"/>
<rect x="802" y="672" width="2" height="37" fill="#FF0000"/>
<rect x="818" y="680" width="2" height="29" fill="#FF0000"/>
<rect x="834" y="693" width="2" height="16" fill="#FF0000"/>
<rect x="850" y="706" width="2" height="3" fill="#FF0000"/>
<rect x="866" y="709" width="2" height="7" fill="#008000"/>
<rect x="882" y="709" width="2" height="14" fill="#008000"/>
<rect x="898" y="709" width="2" height="9" fill="#008000"/>
<rect x="914" y="709" width="2" height="7" fill="#008000"/>
<rect x="930" y="709" width="2" height="10" fill="#008000"/>
<rect x="946" y="709" width="2" height="10" fill="#008000"/>
<rect x="962" y="709" width="2" height="8" fill="#008000"/>
<rect x="978" y="709" width="2" height="1" fill="#008000"/>
<rect x="994" y="699" width="2" height="10" fill="#FF0000"/>
<rect x="1010" y="691" width="2" height="18" fill="#FF0000"/>
<rect x="1026" y="690" width="2" height="19" fill="#FF0000"/>
<rect x="1042" y="693" width="2" height="16" fill="#FF0000"/>
<rect x="1058" y="697" width="2" height="12" fill="#FF0000"/>
<rect x="1074" y="702" width="2" height="7" fill="#FF0000"/>
<rect x="1090" y="704" width="2" height="5" fill="#FF0000"/>
<rect x="1106" y="699" width="2" height="10" fill="#FF0000"/>
<rect x="1122" y="689" width="2" height="20" fill="#FF0000"/>
<rect x="1138" y="693" width="2" height="16" fill="#FF0000"/>
<rect x="1154" y="693" width="2" height="16" fill="#FF0000"/>
<rect x="1170" y="701" width="2" height="8" fill="#FF0000"/>
<rect x="1186" y="703" width="2" height="6" fill="#FF0000"/>
<rect x="1202" y="697" width="2" height="12" fill="#FF0000"/>
<rect x="1218" y="675" width="2" height="34" fill="#FF0000"/>
<rect x="1234" y="662" width="2" height="47" fill="#FF0000"/>
<rect x="1250" y="657" width="2" height="52" fill="#FF0000"/>
<rect x="1266" y="657" width="2" height="52" fill="#FF0000"/>
<rect x="1282" y="658" width="2" height="51" fill="#FF0000"/>
<rect x="1298" y="663" width="2" height="46" fill="#FF0000"/>
<rect x="1314" y="677" width="2" height="32" fill="#FF0000"/>
<rect x="1330" y="691" width="2" height="18" fill="#FF0000"/>
<rect x="1346" y="704" width="2" height="5" fill="#FF0000"/>
<rect x="1362" y="709" width="2" height="6" fill="#008000"/>
<rect x="1378" y="709" width="2" height="16" fill="#008000"/>
<rect x="1394" y="709" width="2" height="23" fill="#008000"/>
<rect x="1410" y="709" width="2" height="31" fill="#008000"/>
<rect x="1426" y="709" width="2" height="35" fill="#008000"/>
<rect x="1442" y="709" width="2" height="36" fill="#008000"/>
<rect x="1458" y="709" width="2" height="38" fill="#008000"/>
<path d="M3 758.5h9M12 757.5h25M37 756.5h3M40 755.5h4M44 754.5h3M47 753.5h3M50 752.5h4M54 751.5h6M60 750.5h5M65 749.5h4M69 748.5h2M71 747.5h2M73 746.5h2M75 745.5h2M77 744.5h2M79 743.5h2M81 742.5h2M83 741.5h3M86 740.5h4M90 739.5h4M94 738.5h4M98 737.5h4M102 738.5h5M107 739.5h6M113 740.5h3M116 741.5h2M119 743.5h2M123 746.5h2M126 748.5h2M129 750.5h2M131 751.5h2M133 752.5h4M137 753.5h4M141 754.5h4M145 755.5h3M149 757.5h2M153 760.5h2M157 763.5h2M161 766.5h2M163 767.5h3M166 766.5h6M172 765.5h5M177 764.5h5M182 763.5h6M188 762.5h5M193 761.5h7M200 760.5h8M208 759.5h8M216 758.5h8M224 757.5h5M229 756.5h2M231 755.5h2M233 754.5h3M236 753.5h2M238 752.5h2M240 751.5h2M242 750.5h2M266 724.5h2M277 714.5h2M282 710.5h2M288 705.5h2M291 703.5h2M293 702.5h2M295 701.5h2M297 700.5h3M300 699.5h2M302 698.5h2M304 697.5h2M306 696.5h2M308 695.5h2M310 694.5h2M313 692.5h2M316 690.5h2M318 689.5h2M321 687.5h2M323 686.5h9M332 685.5h9M341 686.5h2M343 687.5h2M345 688.5h2M347 689.5h3M350 690.5h2M352 691.5h2M354 692.5h3M357 693.5h2M359 694.5h2M361 695.5h2M363 696.5h3M366 697.5h2M368 698.5h2M370 699.5h2M372 700.5h2M374 701.5h2M376 702.5h2M379 704.5h2M381 705.5h2M383 706.5h2M385 707.5h2M387 708.5h2M389 709.5h4M393 710.5h4M397 711.5h4M401 712.5h4M405 713.5h3M408 714.5h3M411 715.5h4M415 716.5h3M418 717.5h2M420 718.5h2M422 719.5h2M424 720.5h2M427 722.5h2M429 723.5h2M431 724.5h2M433 725.5h2M435 726.5h5M440 725.5h8M448 724.5h8M456 723.5h8M464 722.5h6M470 721.5h6M476 720.5h5M481 719.5h7M488 718.5h8M496 717.5h11M507 718.5h9M516 719.5h2M519 721.5h2M521 722.5h2M524 724.5h2M527 726.5h2M529 727.5h2M531 728.5h4M535 729.5h8M543 730.5h12M555 731.5h13M568 730.5h8M576 729.5h11M587 730.5h26M613 729.5h3M616 728.5h2M618 727.5h3M621 726.5h3M624 725.5h2M626 724.5h9M635 725.5h17M652 724.5h10M662 723.5h6M668 722.5h5M673 721.5h5M678 720.5h6M684 719.5h5M689 718.5h4M693 717.5h2M695 716.5h2M697 715.5h3M700 714.5h2M702 713.5h2M704 712.5h2M706 711.5h2M708 710.5h2M710 709.5h2M712 708.5h2M714 707.5h2M717 705.5h2M719 704.5h2M721 703.5h2M740 684.5h2M742 683.5h2M745 681.5h2M748 679.5h2M750 678.5h2M753 676.5h2M756 674.5h2M758 673.5h2M761 671.5h2M764 669.5h2M766 668.5h2M769 666.5h2M771 665.5h3M774 664.5h4M778 663.5h4M782 662.5h4M786 661.5h26M812 660.5h9M821 661.5h3M824 662.5h3M827 663.5h4M831 664.5h3M834 665.5h3M837 666.5h4M841 667.5h4M845 668.5h4M849 669.5h4M853 670.5h4M857 671.5h4M861 672.5h4M865 673.5h4M869 674.5h3M872 675.5h3M875 676.5h4M879 677.5h3M882 678.5h3M885 677.5h3M888 676.5h4M892 675.5h3M895 674.5h3M898 673.5h19M917 674.5h4M921 675.5h4M925 676.5h4M929 677.5h6M935 678.5h8M943 679.5h22M965 678.5h3M968 677.5h4M972 676.5h3M975 675.5h3M978 674.5h3M981 673.5h2M983 672.5h2M985 671.5h2M987 670.5h2M989 669.5h2M991 668.5h2M993 667.5h2M995 666.5h2M997 665.5h2M999 664.5h2M1001 663.5h3M1004 662.5h2M1006 661.5h2M1008 660.5h2M1010 659.5h6M1016 658.5h8M1024 657.5h23M1047 658.5h8M1055 659.5h8M1063 660.5h8M1071 661.5h13M1084 660.5h9M1093 659.5h3M1096 658.5h2M1098 657.5h3M1101 656.5h3M1104 655.5h2M1106 654.5h2M1108 653.5h2M1112 650.5h2M1116 647.5h2M1120 644.5h2M1123 642.5h21M1144 641.5h8M1152 640.5h5M1157 641.5h3M1160 642.5h3M1163 643.5h4M1167 644.5h3M1170 645.5h19M1189 644.5h3M1192 643.5h2M1194 642.5h3M1197 641.5h3M1200 640.5h2M1202 639.5h2M1236 599.5h2M1239 597.5h2M1242 595.5h2M1246 592.5h2M1249 590.5h2M1251 589.5h2M1253 588.5h2M1255 587.5h2M1257 586.5h2M1259 585.5h2M1261 584.5h2M1263 583.5h2M1265 582.5h2M1267 581.5h2M1269 580.5h3M1272 579.5h2M1274 578.5h3M1277 577.5h3M1280 576.5h2M1282 575.5h4M1286 574.5h6M1292 573.5h5M1297 572.5h5M1302 573.5h5M1307 574.5h6M1313 575.5h4M1317 576.5h4M1321 577.5h4M1325 578.5h4M1329 579.5h4M1333 580.5h4M1337 581.5h4M1341 582.5h4M1345 583.5h4M1349 584.5h2M1351 585.5h3M1354 586.5h3M1357 587.5h2M1359 588.5h3M1362 589.5h3M1365 590.5h2M1367 591.5h3M1370 592.5h3M1373 593.5h2M1375 594.5h3M1378 595.5h2M1380 596.5h2M1382 597.5h2M1384 598.5h2M1386 599.5h2M1388 600.5h2M1390 601.5h2M1392 602.5h2M1394 603.5h3M1397 604.5h2M1399 605.5h2M1401 606.5h2M1403 607.5h3M1406 608.5h2M1408 609.5h2M1410 610.5h3M1413 611.5h2M1415 612.5h2M1417 613.5h2M1419 614.5h3M1422 615.5h2M1424 616.5h2M1426 617.5h3M1429 618.5h2M1431 619.5h2M1433 620.5h2M1435 621.5h3M1438 622.5h2M1440 623.5h2M1442 624.5h3M1445 625.5h2M1447 626.5h3M1450 627.5h3M1453 628.5h2M1455 629.5h3M1458 630.5h2M118.5 742v1M121.5 744v1M122.5 745v1M125.5 747v1M128.5 749v1M148.5 756v1M151.5 758v1M152.5 759v1M155.5 761v1M156.5 762v1M159.5 764v1M160.5 765v1M244.5 749v1M245.5 748v1M246.5 746v2M247.5 745v1M248.5 744v1M249.5 743v1M250.5 742v1M251.5 740v2M252.5 739v1M253.5 738v1M254.5 737v1M255.5 736v1M256.5 734v2M257.5 733v1M258.5 732v1M259.5 731v1M260.5 730v1M261.5 729v1M262.5 728v1M263.5 727v1M264.5 726v1M265.5 725v1M268.5 723v1M269.5 722v1M270.5 721v1M271.5 720v1M272.5 719v1M273.5 718v1M274.5 717v1M275.5 716v1M276.5 715v1M279.5 713v1M280.5 712v1M281.5 711v1M284.5 709v1M285.5 708v1M286.5 707v1M287.5 706v1M290.5 704v1M312.5 693v1M315.5 691v1M320.5 688v1M378.5 703v1M426.5 721v1M518.5 720v1M523.5 723v1M526.5 725v1M716.5 706v1M723.5 702v1M724.5 701v1M725.5 700v1M726.5 699v1M727.5 698v1M728.5 697v1M729.5 696v1M730.5 695v1M731.5 693v2M732.5 692v1M733.5 691v1M734.5 690v1M735.5 689v1M736.5 688v1M737.5 687v1M738.5 686v1M739.5 685v1M744.5 682v1M747.5 680v1M752.5 677v1M755.5 675v1M760.5 672v1M763.5 670v1M768.5 667v1M1110.5 652v1M1111.5 651v1M1114.5 649v1M1115.5 648v1M1118.5 646v1M1119.5 645v1M1122.5 643v1M1204.5 637v2M1205.5 636v1M1206.5 635v1M1207.5 633v2M1208.5 632v1M1209.5 631v1M1210.5 629v2M1211.5 628v1M1212.5 626v2M1213.5 625v1M1214.5 624v1M1215.5 622v2M1216.5 621v1M1217.5 620v1M1218.5 618v2M1219.5 617v1M1220.5 616v1M1221.5 615v1M1222.5 614v1M1223.5 613v1M1224.5 612v1M1225.5 611v1M1226.5 610v1M1227.5 608v2M1228.5 607v1M1229.5 606v1M1230.5 605v1M1231.5 604v1M1232.5 603v1M1233.5 602v1M1234.5 601v1M1235.5 600v1M1238.5 598v1M1241.5 596v1M1244.5 594v1M1245.5 593v1M1248.5 591v1" fill="none" stroke="#0000FF" stroke-width="1"/>
<polyline points="3,760.6 19,760.6 35,759.4 51,758.2 67,756 83,755.2 99,751.9 115,750.2 131,749.4 147,749.4 163,750.2 179,751.1 195,751.9 211,753.2 227,754.9 243,755.6 259,755.2 275,752.7 291,746 307,739.4 323,730.2 339,721.8 355,713.5 371,708.1 387,702.6 403,700.1 419,700.1 435,702.6 451,706 467,709.8 483,713.5 499,716.5 515,718.5 531,721.3 547,723.2 563,723.5 579,723.5 595,725.7 611,726 627,726.4 643,727.7 659,727.7 675,727.4 691,726.4 707,724.4 723,721.4 739,716.4 755,710.2 771,703.5 787,696.8 803,689.3 819,682.1 835,676.8 851,672.6 867,669.8 883,668.4 899,668.4 915,668.7 931,671 947,673 963,674.8 979,674.8 995,674.7 1011,673 1027,671 1043,669 1059,668.1 1075,666 1091,664 1107,661.3 1123,657.6 1139,655.1 1155,652.3 1171,650.9 1187,649.8 1203,647.9 1219,643.6 1235,636.5 1251,629 1267,622.3 1283,615.6 1299,607.3 1315,599.7 1331,593.1 1347,586.7 1363,582.5 1379,581.9 1395,583 1411,585.5 1427,589.7 1443,595.6 1459,602.2" fill="none" stroke="#FF0000" stroke-width="2" />
</g>
<text x="1876.3" y="32" textLength="32.5" lengthAdjust="spacingAndGlyphs" xml:space="preserve">1.10210</text>
<text x="1876.3" y="65" textLength="32.5" lengthAdjust="spacingAndGlyphs" xml:space="preserve">1.09930</text>
<text x="1876.3" y="98" textLength="32.5" lengthAdjust="spacingAndGlyphs" xml:space="preserve">1.09650</text>
<text x="1876.3" y="131" textLength="32.5" lengthAdjust="spacingAndGlyphs" xml:space="preserve">1.09370</text>
<text x="1876.3" y="164" textLength="32.5" lengthAdjust="spacingAndGlyphs" xml:space="preserve">1.09090</text>
<text x="1876.3" y="197" textLength="32.5" lengthAdjust="spacingAndGlyphs" xml:space="preserve">1.08805</text>
<text x="1876.3" y="230" textLength="32.5" lengthAdjust="spacingAndGlyphs" xml:space="preserve">1.08525</text>
<text x="1876.3" y="263" textLength="32.5" lengthAdjust="spacingAndGlyphs" xml:space="preserve">1.08245</text>
<text x="1876.3" y="296" textLength="32.5" lengthAdjust="spacingAndGlyphs" xml:space="preserve">1.07965</text>
<text x="1876.3" y="329" textLength="32.5" lengthAdjust="spacingAndGlyphs" xml:space="preserve">1.07685</text>
<text x="1876.3" y="362" textLength="32.5" lengthAdjust="spacingAndGlyphs" xml:space="preserve">1.07405</text>
<text x="1876.3" y="395" textLength="32.5" lengthAdjust="spacingAndGlyphs" xml:space="preserve">1.07125</text>
<text x="1876.3" y="428" textLength="32.5" lengthAdjust="spacingAndGlyphs" xml:space="preserve">1.06840</text>
<text x="1876.3" y="461" textLength="32.5" lengthAdjust="spacingAndGlyphs" xml:space="preserve">1.06560</text>
<text x="1876.3" y="494" textLength="32.5" lengthAdjust="spacingAndGlyphs" xml:space="preserve">1.06280</text>
<text x="1876.3" y="527" textLength="32.5" lengthAdjust="spacingAndGlyphs" xml:space="preserve">1.06000</text>
<text x="1876.3" y="560" textLength="32.5" lengthAdjust="spacingAndGlyphs" xml:space="preserve">1.05720</text>
<text x="1873.8" y="572" textLength="38" lengthAdjust="spacingAndGlyphs" xml:space="preserve">0.005165</text>
<text x="1873.8" y="713" textLength="18" lengthAdjust="spacingAndGlyphs" xml:space="preserve">0.00</text>
<text x="1873.8" y="774" textLength="41" lengthAdjust="spacingAndGlyphs" xml:space="preserve">-0.002387</text>
<g shape-rendering="crispEdges">
<rect x="1872" y="82" width="41" height="11" fill="#FF0000"/>
<rect x="1872" y="125" width="41" height="11" fill="#FF0000"/>
<rect x="1872" y="208" width="41" height="11" fill="#FF0000"/>
<rect x="1872" y="262" width="41" height="11" fill="#FF0000"/>
<rect x="1872" y="152" width="41" height="11" fill="#000"/>
</g>
<text x="1876.3" y="91" textLength="32.5" lengthAdjust="spacingAndGlyphs" xml:space="preserve" class="w">1.09702</text>
<text x="1876.3" y="134" textLength="32.5" lengthAdjust="spacingAndGlyphs" xml:space="preserve" class="w">1.09334</text>
<text x="1876.3" y="217" textLength="32.5" lengthAdjust="spacingAndGlyphs" xml:space="preserve" class="w">1.08633</text>
<text x="1876.3" y="271" textLength="32.5" lengthAdjust="spacingAndGlyphs" xml:space="preserve" class="w">1.08172</text>
<text x="1876.3" y="161" textLength="32.5" lengthAdjust="spacingAndGlyphs" xml:space="preserve" class="w">1.09116</text>
<text x="7.2" y="14" textLength="54" lengthAdjust="spacingAndGlyphs" xml:space="preserve">EURUSD,H4</text>
<text x="67.2" y="14" textLength="33" lengthAdjust="spacingAndGlyphs" xml:space="preserve">1.09190</text>
<text x="103" y="14" textLength="33" lengthAdjust="spacingAndGlyphs" xml:space="preserve">1.09214</text>
<text x="139.1" y="14" textLength="33" lengthAdjust="spacingAndGlyphs" xml:space="preserve">1.09097</text>
<text x="175" y="14" textLength="33" lengthAdjust="spacingAndGlyphs" xml:space="preserve">1.09116</text>
<text x="7.2" y="574" textLength="65.2" lengthAdjust="spacingAndGlyphs" xml:space="preserve">MACD(12,26,9)</text>
<text x="76" y="574" textLength="37.8" lengthAdjust="spacingAndGlyphs" xml:space="preserve">0.002751</text>
<text x="116.9" y="574" textLength="37.8" lengthAdjust="spacingAndGlyphs" xml:space="preserve">0.003772</text>
<text x="158" y="574" textLength="37.8" lengthAdjust="spacingAndGlyphs" xml:space="preserve">0.000000</text>
<text x="198.7" y="574" textLength="41.3" lengthAdjust="spacingAndGlyphs" xml:space="preserve">-0.001328</text>
<text x="2.4" y="790" textLength="54.6" lengthAdjust="spacingAndGlyphs" xml:space="preserve">30 May 2023</text>
<text x="66.4" y="790" textLength="57" lengthAdjust="spacingAndGlyphs" xml:space="preserve">30 May 16:00</text>
<text x="130.4" y="790" textLength="57" lengthAdjust="spacingAndGlyphs" xml:space="preserve">31 May 08:00</text>
<text x="194.4" y="790" textLength="47.3" lengthAdjust="spacingAndGlyphs" xml:space="preserve">1 Jun 00:00</text>
<text x="258.4" y="790" textLength="47.3" lengthAdjust="spacingAndGlyphs" xml:space="preserve">1 Jun 16:00</text>
<text x="322.4" y="790" textLength="47.3" lengthAdjust="spacingAndGlyphs" xml:space="preserve">2 Jun 08:00</text>
<text x="386.4" y="790" textLength="47.3" lengthAdjust="spacingAndGlyphs" xml:space="preserve">5 Jun 00:00</text>
<text x="450.4" y="790" textLength="47.3" lengthAdjust="spacingAndGlyphs" xml:space="preserve">5 Jun 16:00</text>
<text x="514.4" y="790" textLength="47.3" lengthAdjust="spacingAndGlyphs" xml:space="preserve">6 Jun 08:00</text>
<text x="578.4" y="790" textLength="47.3" lengthAdjust="spacingAndGlyphs" xml:space="preserve">7 Jun 00:00</text>
<text x="642.4" y="790" textLength="47.3" lengthAdjust="spacingAndGlyphs" xml:space="preserve">7 Jun 16:00</text>
<text x="706.4" y="790" textLength="47.3" lengthAdjust="spacingAndGlyphs" xml:space="preserve">8 Jun 08:00</text>
<text x="770.4" y="790" textLength="47.3" lengthAdjust="spacingAndGlyphs" xml:space="preserve">9 Jun 00:00</text>
<text x="834.4" y="790" textLength="47.3" lengthAdjust="spacingAndGlyphs" xml:space="preserve">9 Jun 16:00</text>
<text x="898.4" y="790" textLength="52.5" lengthAdjust="spacingAndGlyphs" xml:space="preserve">12 Jun 08:00</text>
<text x="962.4" y="790" textLength="52.5" lengthAdjust="spacingAndGlyphs" xml:space="preserve">13 Jun 00:00</text>
<text x="1026.4" y="790" textLength="52.5" lengthAdjust="spacingAndGlyphs" xml:space="preserve">13 Jun 16:00</text>
<text x="1090.4" y="790" textLength="52.5" lengthAdjust="spacingAndGlyphs" xml:space="preserve">14 Jun 08:00</text>
<text x="1154.4" y="790" textLength="52.5" lengthAdjust="spacingAndGlyphs" xml:space="preserve">15 Jun 00:00</text>
<text x="1218.4" y="790" textLength="52.5" lengthAdjust="spacingAndGlyphs" xml:space="preserve">15 Jun 16:00</text>
<text x="1282.4" y="790" textLength="52.5" lengthAdjust="spacingAndGlyphs" xml:space="preserve">16 Jun 08:00</text>
<text x="1346.4" y="790" textLength="52.5" lengthAdjust="spacingAndGlyphs" xml:space="preserve">19 Jun 00:00</text>
<text x="1410.4" y="790" textLength="52.5" lengthAdjust="spacingAndGlyphs" xml:space="preserve">19 Jun 16:00</text>
</svg></body></html>
